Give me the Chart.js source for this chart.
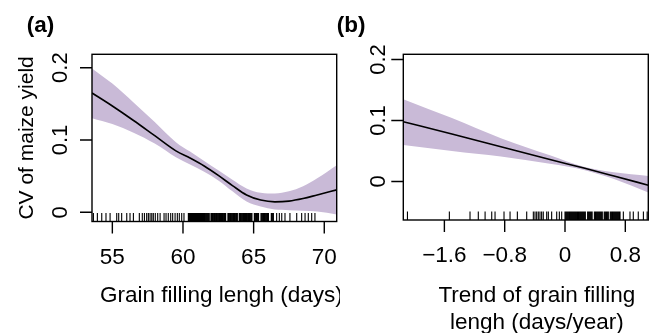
<!DOCTYPE html>
<html>
<head>
<meta charset="utf-8">
<script src="https://cdn.jsdelivr.net/npm/chart.js@4"></script>
<style>
  html, body { margin: 0; padding: 0; background: #fff; }
  #wrap { position: relative; width: 651px; height: 333px; overflow: hidden; }
  canvas { position: absolute; top: 0; }
  #chartA { left: 0; }
  #chartB { left: 330px; }
</style>
</head>
<body>
<div id="wrap">
  <canvas id="chartA" width="340" height="333"></canvas>
  <canvas id="chartB" width="321" height="333"></canvas>
</div>
<script>
// Panel (a): CV vs grain filling length
const xA   = [53.56, 55, 56.5, 58, 59.5, 60.5, 61.5, 62.5, 63.5, 64.5, 65.5, 66.5, 67.5, 68.5, 69.5, 70.88];
const fitA = [0.165, 0.147, 0.127, 0.106, 0.085, 0.075, 0.064, 0.051, 0.037, 0.024, 0.017, 0.0145, 0.0155, 0.019, 0.024, 0.031];
const upA  = [0.199, 0.178, 0.152, 0.125, 0.097, 0.084, 0.071, 0.058, 0.045, 0.033, 0.027, 0.026, 0.029, 0.036, 0.047, 0.065];
const loA  = [0.130, 0.122, 0.110, 0.095, 0.076, 0.066, 0.056, 0.044, 0.029, 0.015, 0.008, 0.004, 0.003, 0.002, 0.001, -0.003];
const rugA = [53.66, 53.94, 54.25, 54.55, 54.84, 55.31, 55.45, 55.66, 56.02, 56.25, 56.49, 56.91, 57.12, 57.27,
  57.43, 57.55, 57.67, 57.79, 57.9, 58.04, 58.21, 58.38, 58.66, 58.8, 58.96, 59.13, 59.27, 59.44, 59.6, 59.74,
  59.91, 60.07, 60.38, 60.42, 60.46, 60.5, 60.54, 60.58, 60.62, 60.66, 60.7, 60.74, 60.78, 60.82, 60.86, 60.9,
  60.94, 60.98, 61.02, 61.06, 61.1, 61.14, 61.18, 61.22, 61.26, 61.3, 61.34, 61.38, 61.42, 61.46, 61.5, 61.54,
  61.62, 61.7, 61.78, 61.86, 61.98, 62.05, 62.12, 62.2, 62.27, 62.35, 62.42, 62.5, 62.58, 62.66, 62.73, 62.8,
  62.88, 62.95, 63.02, 63.18, 63.25, 63.33, 63.4, 63.48, 63.56, 63.63, 63.7, 63.78, 63.85, 63.98, 64.05, 64.12,
  64.2, 64.28, 64.35, 64.42, 64.5, 64.58, 64.65, 64.72, 64.8, 64.88, 65.05, 65.12, 65.2, 65.28, 65.35, 65.52,
  65.6, 65.68, 65.75, 65.82, 65.9, 65.98, 66.05, 66.25, 66.32, 66.4, 66.63, 66.82, 66.99, 67.22, 67.57, 68.05,
  68.4, 68.64, 68.87, 69.11, 69.34];
const xTicksA = [55, 60, 65, 70];
const xLabelsA = ['55', '60', '65', '70'];

// Panel (b): CV vs trend of grain filling length
const xB   = [-2.145, -1.5, -0.85, -0.2, 0.25, 0.65, 1.105];
const fitB = [0.098, 0.078, 0.057, 0.036, 0.022, 0.009, -0.006];
const upB  = [0.135, 0.104, 0.071, 0.043, 0.024, 0.015, 0.009];
const loB  = [0.060, 0.050, 0.041, 0.029, 0.019, 0.004, -0.018];
const rugB = [-2.09, -1.534, -1.26, -1.15, -1.06, -0.972, -0.928, -0.809, -0.729, -0.632, -0.508, -0.42, -0.398,
  -0.376, -0.354, -0.332, -0.31, -0.288, -0.243, -0.221, -0.177, -0.11, -0.075, -0.044, 0.0, 0.015, 0.03, 0.045,
  0.06, 0.075, 0.09, 0.105, 0.12, 0.135, 0.15, 0.165, 0.18, 0.195, 0.21, 0.225, 0.24, 0.255, 0.27, 0.3, 0.315,
  0.33, 0.345, 0.36, 0.39, 0.405, 0.42, 0.435, 0.45, 0.465, 0.48, 0.495, 0.52, 0.535, 0.55, 0.565, 0.575, 0.6,
  0.615, 0.63, 0.645, 0.66, 0.675, 0.69, 0.705, 0.72, 0.73, 0.774, 0.862, 0.906, 0.972, 1.04, 1.09];
const xTicksB = [-1.6, -0.8, 0, 0.8];
const xLabelsB = ['\u22121.6', '\u22120.8', '0', '0.8'];

const yTicks = [0, 0.1, 0.2];
const yLabels = ['0', '0.1', '0.2'];

const BAND = 'rgb(201,186,215)';
const FONT = '"Liberation Sans", Arial, sans-serif';
const TICK = 12;

const pts = (xs, ys) => xs.map((x, i) => ({ x, y: ys[i] }));

// box, axis ticks, rug, tick labels and titles, R style
function decor(p) {
    return {
        id: 'decor',
        afterDraw(chart) {
            const { ctx, chartArea: a, scales: { x, y } } = chart;
            ctx.save();
            ctx.strokeStyle = '#000';
            ctx.lineWidth = 1.4;
            ctx.strokeRect(a.left, a.top, a.right - a.left, a.bottom - a.top);

            // axis tick marks
            ctx.beginPath();
            p.xTicks.forEach(v => {
                const px = x.getPixelForValue(v);
                ctx.moveTo(px, a.bottom);
                ctx.lineTo(px, a.bottom + TICK);
            });
            p.yTicks.forEach(v => {
                const py = y.getPixelForValue(v);
                ctx.moveTo(a.left, py);
                ctx.lineTo(a.left - TICK, py);
            });
            ctx.stroke();

            // rug
            ctx.lineWidth = 1.1;
            ctx.beginPath();
            p.rug.forEach(v => {
                const px = x.getPixelForValue(v);
                ctx.moveTo(px, a.bottom);
                ctx.lineTo(px, a.bottom - 8.5);
            });
            ctx.stroke();

            ctx.fillStyle = '#000';
            ctx.font = '22.5px ' + FONT;
            ctx.textAlign = 'center';
            ctx.textBaseline = 'alphabetic';
            p.xTicks.forEach((v, i) => ctx.fillText(p.xLabels[i], x.getPixelForValue(v), a.bottom + 42));

            ctx.font = '22px ' + FONT;
            p.yTicks.forEach((v, i) => {
                ctx.save();
                ctx.translate(a.left - p.yLabGap, y.getPixelForValue(v));
                ctx.rotate(-Math.PI / 2);
                ctx.fillText(p.yLabels[i], 0, 0);
                ctx.restore();
            });

            ctx.font = '22.5px ' + FONT;
            const cx = (a.left + a.right) / 2 + p.titleShift;
            p.xTitle.forEach((t, i) => ctx.fillText(t, cx, p.titleY + i * 27));

            if (p.yTitle) {
                ctx.font = '21px ' + FONT;
                ctx.save();
                ctx.translate(p.yTitleX, (a.top + a.bottom) / 2);
                ctx.rotate(-Math.PI / 2);
                ctx.fillText(p.yTitle, 0, 0);
                ctx.restore();
            }

            ctx.font = 'bold 22.5px ' + FONT;
            ctx.textAlign = 'left';
            ctx.fillText(p.letter, p.letterX, 31.5);
            ctx.restore();
        }
    };
}

function panel(id, p) {
    new Chart(document.getElementById(id), {
        type: 'line',
        data: {
            datasets: [
                { data: pts(p.x, p.fit), borderColor: '#000', borderWidth: 1.6, pointRadius: 0, fill: false, cubicInterpolationMode: 'monotone' },
                { data: pts(p.x, p.up), borderWidth: 0, pointRadius: 0, backgroundColor: BAND, fill: '+1', cubicInterpolationMode: 'monotone' },
                { data: pts(p.x, p.lo), borderWidth: 0, pointRadius: 0, fill: false, cubicInterpolationMode: 'monotone' }
            ]
        },
        options: {
            responsive: false,
            animation: false,
            events: [],
            layout: { padding: p.pad },
            plugins: { legend: { display: false }, tooltip: { enabled: false } },
            scales: {
                x: { type: 'linear', display: false, min: p.xMin, max: p.xMax },
                y: { type: 'linear', display: false, min: p.yMin, max: p.yMax }
            }
        },
        plugins: [decor(p)]
    });
}

panel('chartA', {
    x: xA, fit: fitA, up: upA, lo: loA, rug: rugA,
    xMin: 53.56, xMax: 70.88, yMin: -0.0127, yMax: 0.2185,
    xTicks: xTicksA, xLabels: xLabelsA, yTicks, yLabels,
    pad: { left: 92, top: 54.3, right: 3.3, bottom: 111.5 },
    yLabGap: 25.3, titleShift: 7, titleY: 301.5,
    xTitle: ['Grain filling lengh (days)'],
    yTitle: 'CV of maize yield', yTitleX: 33.3,
    letter: '(a)', letterX: 26.7
});

panel('chartB', {
    x: xB, fit: fitB, up: upB, lo: loB, rug: rugB,
    xMin: -2.145, xMax: 1.105, yMin: -0.0631, yMax: 0.2085,
    xTicks: xTicksB, xLabels: xLabelsB, yTicks, yLabels,
    pad: { left: 73.3, top: 54.3, right: 2.7, bottom: 113 },
    yLabGap: 18.3, titleShift: 11, titleY: 301.5,
    xTitle: ['Trend of grain filling', 'lengh (days/year)'],
    letter: '(b)', letterX: 6.7
});
</script>
</body>
</html>
